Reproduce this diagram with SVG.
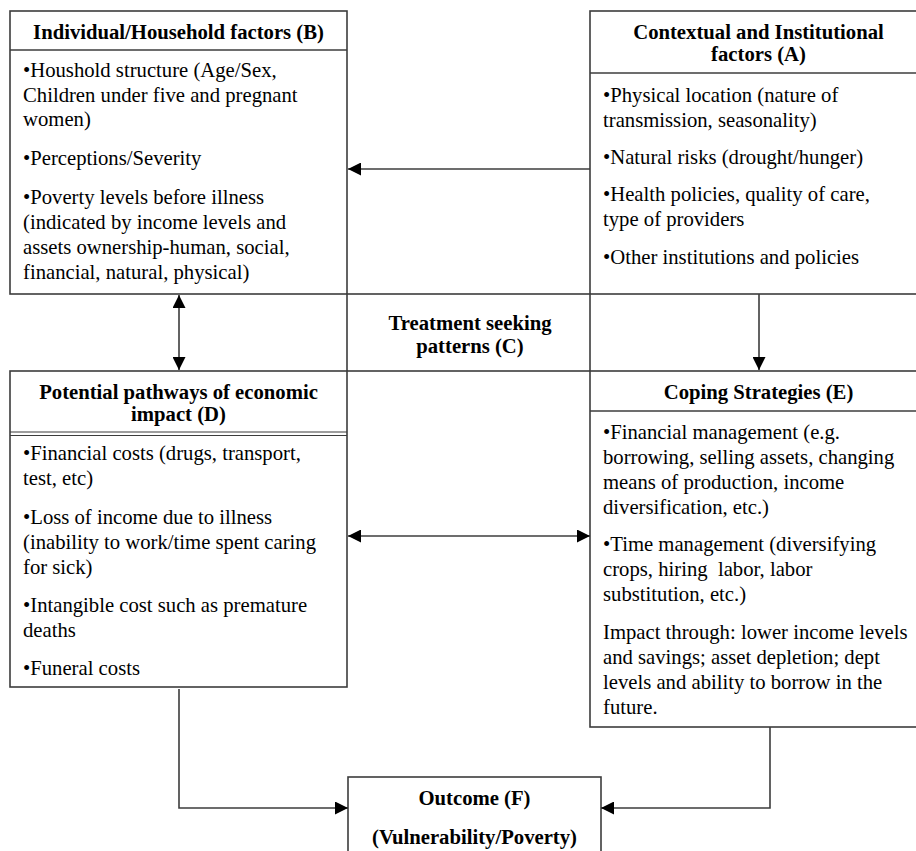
<svg xmlns="http://www.w3.org/2000/svg" width="916" height="851" viewBox="0 0 916 851">
<style>
  .box{fill:#fff;stroke:#3c3c3c;stroke-width:1.6}
  .div{stroke:#3c3c3c;stroke-width:1.6;fill:none}
  .div2{stroke:#3c3c3c;stroke-width:1.1;fill:none}
  text{font-family:"Liberation Serif","Times New Roman",serif;font-size:20.7px;fill:#000}
  .h{font-weight:bold;text-anchor:middle}
  .c{stroke:#3c3c3c;stroke-width:1.6;fill:none}
</style>
<defs>
  <marker id="ah" markerUnits="userSpaceOnUse" markerWidth="14" markerHeight="13" refX="13" refY="6.5" orient="auto-start-reverse">
    <path d="M0,0 L13,6.5 L0,13 Z" fill="#000"/>
  </marker>
</defs>
<rect width="916" height="851" fill="#fff"/>

<g id="nodeB">
  <rect class="box" x="10" y="11" width="337" height="283"/>
  <line class="div" x1="10" y1="50" x2="347" y2="50"/>
  <text class="h" x="178.5" y="39">Individual/Household factors (B)</text>
  <text x="23" y="77">•Houshold structure (Age/Sex,</text>
  <text x="23" y="102">Children under five and pregnant</text>
  <text x="23" y="126">women)</text>
  <text x="23" y="165">•Perceptions/Severity</text>
  <text x="23" y="204">•Poverty levels before illness</text>
  <text x="23" y="229">(indicated by income levels and</text>
  <text x="23" y="254">assets ownership-human, social,</text>
  <text x="23" y="279">financial, natural, physical)</text>
</g>

<g id="nodeA">
  <rect class="box" x="590" y="11" width="337" height="283"/>
  <line class="div" x1="590" y1="73" x2="927" y2="73"/>
  <text class="h" x="758.5" y="39">Contextual and Institutional</text>
  <text class="h" x="758.5" y="61">factors (A)</text>
  <text x="603" y="102">•Physical location (nature of</text>
  <text x="603" y="127">transmission, seasonality)</text>
  <text x="603" y="164">•Natural risks (drought/hunger)</text>
  <text x="603" y="201">•Health policies, quality of care,</text>
  <text x="603" y="226">type of providers</text>
  <text x="603" y="264">•Other institutions and policies</text>
</g>

<g id="nodeC">
  <rect class="box" x="347" y="294" width="243" height="77"/>
  <text class="h" x="470" y="330">Treatment seeking</text>
  <text class="h" x="470" y="353">patterns (C)</text>
</g>

<g id="nodeD">
  <rect class="box" x="10" y="371" width="337" height="316"/>
  <line class="div2" x1="10" y1="432" x2="347" y2="432"/>
  <line class="div2" x1="10" y1="435.5" x2="347" y2="435.5"/>
  <text class="h" x="178.5" y="399">Potential pathways of economic</text>
  <text class="h" x="178.5" y="421">impact (D)</text>
  <text x="23" y="460">•Financial costs (drugs, transport,</text>
  <text x="23" y="485">test, etc)</text>
  <text x="23" y="524">•Loss of income due to illness</text>
  <text x="23" y="549">(inability to work/time spent caring</text>
  <text x="23" y="574">for sick)</text>
  <text x="23" y="612">•Intangible cost such as premature</text>
  <text x="23" y="637">deaths</text>
  <text x="23" y="675">•Funeral costs</text>
</g>

<g id="nodeE">
  <rect class="box" x="590" y="371" width="337" height="356"/>
  <line class="div" x1="590" y1="411" x2="927" y2="411"/>
  <text class="h" x="758.5" y="399">Coping Strategies (E)</text>
  <text x="603" y="439">•Financial management (e.g.</text>
  <text x="603" y="464">borrowing, selling assets, changing</text>
  <text x="603" y="489">means of production, income</text>
  <text x="603" y="514">diversification, etc.)</text>
  <text x="603" y="551">•Time management (diversifying</text>
  <text x="603" y="576" xml:space="preserve">crops, hiring  labor, labor</text>
  <text x="603" y="601">substitution, etc.)</text>
  <text x="603" y="639">Impact through: lower income levels</text>
  <text x="603" y="664">and savings; asset depletion; dept</text>
  <text x="603" y="689">levels and ability to borrow in the</text>
  <text x="603" y="714">future.</text>
</g>

<g id="nodeF">
  <rect class="box" x="348" y="777" width="253" height="90"/>
  <text class="h" x="474.5" y="805">Outcome (F)</text>
  <text class="h" x="474.5" y="844">(Vulnerability/Poverty)</text>
</g>

<g id="connectors">
  <line class="c" x1="590" y1="169" x2="348" y2="169" marker-end="url(#ah)"/>
  <line class="c" x1="179" y1="295" x2="179" y2="370" marker-start="url(#ah)" marker-end="url(#ah)"/>
  <line class="c" x1="759" y1="294" x2="759" y2="370" marker-end="url(#ah)"/>
  <line class="c" x1="348" y1="536" x2="590" y2="536" marker-start="url(#ah)" marker-end="url(#ah)"/>
  <polyline class="c" points="179,689 179,808 348,808" marker-end="url(#ah)"/>
  <polyline class="c" points="770,727 770,808 601,808" marker-end="url(#ah)"/>
</g>
</svg>
